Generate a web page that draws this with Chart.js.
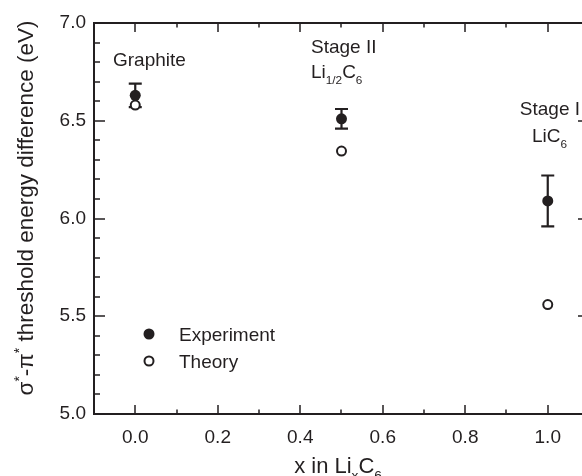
<!DOCTYPE html>
<html><head><meta charset="utf-8">
<script src="https://cdn.jsdelivr.net/npm/chart.js@4/dist/chart.umd.min.js"></script>
<style>
html,body{margin:0;padding:0;background:#fff;overflow:hidden;}
#wrap{width:582px;height:476px;overflow:hidden;position:relative;}
#c{position:absolute;left:0;top:0;}
</style></head>
<body><div id="wrap"><canvas id="c" width="600" height="476"></canvas></div>
<script>
const xValues = [0.0, 0.5, 1.0];
const experiment = [6.63, 6.51, 6.09];
const experimentErr = [0.06, 0.05, 0.13];
const theory = [6.58, 6.345, 5.56];
const xTicks = [0.0, 0.2, 0.4, 0.6, 0.8, 1.0];
const xMinorTicks = [-0.1, 0.1, 0.3, 0.5, 0.7, 0.9, 1.1];
const yTicks = [5.0, 5.5, 6.0, 6.5, 7.0];
const yMinorTicks = [5.1,5.2,5.3,5.4,5.6,5.7,5.8,5.9,6.1,6.2,6.3,6.4,6.6,6.7,6.8,6.9];
const seriesNames = ['Experiment', 'Theory'];

const INK = '#231f20';
const FONT = 'Liberation Sans, Arial, sans-serif';

const decor = {
  id: 'decor',
  beforeDatasetsDraw(chart) {
    const ctx = chart.ctx, xs = chart.scales.x, ys = chart.scales.y;
    ctx.save();
    ctx.strokeStyle = INK; ctx.lineWidth = 2.2;
    xValues.forEach((xv, i) => {
      const px = xs.getPixelForValue(xv);
      const top = ys.getPixelForValue(experiment[i] + experimentErr[i]);
      const bot = ys.getPixelForValue(experiment[i] - experimentErr[i]);
      ctx.beginPath();
      ctx.moveTo(px, top); ctx.lineTo(px, bot);
      ctx.moveTo(px - 6.5, top); ctx.lineTo(px + 6.5, top);
      ctx.moveTo(px - 6.5, bot); ctx.lineTo(px + 6.5, bot);
      ctx.stroke();
    });
    ctx.restore();
  },
  afterDraw(chart) {
    const ctx = chart.ctx, xs = chart.scales.x, ys = chart.scales.y;
    const a = chart.chartArea;
    ctx.save();
    ctx.strokeStyle = INK; ctx.lineWidth = 2;
    ctx.strokeRect(a.left, a.top, a.right - a.left, a.bottom - a.top);
    ctx.beginPath();
    const tick = (vals, len, horiz) => {
      vals.forEach(v => {
        if (horiz) {
          const px = Math.round(xs.getPixelForValue(v));
          ctx.moveTo(px, a.bottom); ctx.lineTo(px, a.bottom - len);
          ctx.moveTo(px, a.top); ctx.lineTo(px, a.top + len);
        } else {
          const py = Math.round(ys.getPixelForValue(v));
          ctx.moveTo(a.left, py); ctx.lineTo(a.left + len, py);
          ctx.moveTo(a.right, py); ctx.lineTo(a.right - len, py);
        }
      });
    };
    tick(xTicks, 9, true); tick(xMinorTicks, 4.5, true);
    tick(yTicks, 11, false); tick(yMinorTicks, 6, false);
    ctx.lineWidth = 1.5;
    ctx.stroke();

    ctx.fillStyle = INK;
    const rich = (parts, x, y, size, align) => {
      let w = 0;
      parts.forEach(p => { ctx.font = (p.s ? size*0.62 : size) + 'px ' + FONT; w += ctx.measureText(p.t).width; });
      let cx = align === 'center' ? x - w/2 : (align === 'right' ? x - w : x);
      ctx.textAlign = 'left'; ctx.textBaseline = 'alphabetic';
      parts.forEach(p => {
        ctx.font = (p.s ? size*0.62 : size) + 'px ' + FONT;
        const dy = p.s === 'sub' ? size*0.3 : (p.s === 'sup' ? -size*0.38 : 0);
        ctx.fillText(p.t, cx, y + dy);
        cx += ctx.measureText(p.t).width;
      });
    };
    rich([{t:'Graphite'}], 113, 66, 19, 'left');
    rich([{t:'Stage II'}], 311, 53, 19, 'left');
    rich([{t:'Li'},{t:'1/2',s:'sub'},{t:'C'},{t:'6',s:'sub'}], 311, 78, 19, 'left');
    rich([{t:'Stage I'}], 580, 115, 19, 'right');
    rich([{t:'Li'},{t:'C'},{t:'6',s:'sub'}], 532, 142, 19, 'left');
    rich([{t:'x in Li'},{t:'x',s:'sub'},{t:'C'},{t:'6',s:'sub'}], 338, 473, 22, 'center');
    ctx.save();
    ctx.translate(33, 208);
    ctx.rotate(-Math.PI/2);
    rich([{t:'σ'},{t:'*',s:'sup'},{t:'-π'},{t:'*',s:'sup'},{t:' threshold energy difference (eV)'}], 0, 0, 22.5, 'center');
    ctx.restore();
    const ds = chart.data.datasets;
    const ly = [334, 361];
    ds.forEach((d, i) => {
      ctx.beginPath();
      ctx.arc(149, ly[i], d.pointRadius, 0, Math.PI*2);
      ctx.fillStyle = d.pointBackgroundColor; ctx.fill();
      if (d.pointBorderWidth) { ctx.lineWidth = d.pointBorderWidth; ctx.strokeStyle = INK; ctx.stroke(); }
      ctx.fillStyle = INK;
      rich([{t:d.label}], 179, ly[i] + 7, 19, 'left');
    });
    ctx.restore();
  }
};

new Chart(document.getElementById('c'), {
  type: 'scatter',
  data: {
    datasets: [
      { label: seriesNames[0], data: xValues.map((x,i)=>({x, y: experiment[i]})),
        pointRadius: 5.5, pointBackgroundColor: INK, pointBorderColor: INK, pointBorderWidth: 0, showLine:false },
      { label: seriesNames[1], data: xValues.map((x,i)=>({x, y: theory[i]})),
        pointRadius: 4.5, pointBackgroundColor: '#ffffff', pointBorderColor: INK, pointBorderWidth: 2, showLine:false }
    ]
  },
  options: {
    responsive: false, animation: false,
    layout: { padding: { top: 23, right: 11, left: 0, bottom: 0 } },
    plugins: { legend: { display: false }, tooltip: { enabled: false } },
    scales: {
      x: { type: 'linear', min: -0.1, max: 1.1,
        afterBuildTicks: s => { s.ticks = xTicks.map(v => ({ value: v })); },
        afterFit: s => { s.height = 62; },
        grid: { display: false, drawTicks: false }, border: { display: false },
        ticks: { padding: 12, color: INK, font: { size: 19, family: FONT }, callback: v => Number(v).toFixed(1), maxRotation: 0, autoSkip: false } },
      y: { type: 'linear', min: 5.0, max: 7.0,
        afterBuildTicks: s => { s.ticks = yTicks.map(v => ({ value: v })); },
        afterFit: s => { s.width = 94; },
        grid: { display: false, drawTicks: false }, border: { display: false },
        ticks: { padding: 8, color: INK, font: { size: 19, family: FONT }, callback: v => Number(v).toFixed(1), autoSkip: false } }
    }
  },
  plugins: [decor]
});
</script></body></html>
